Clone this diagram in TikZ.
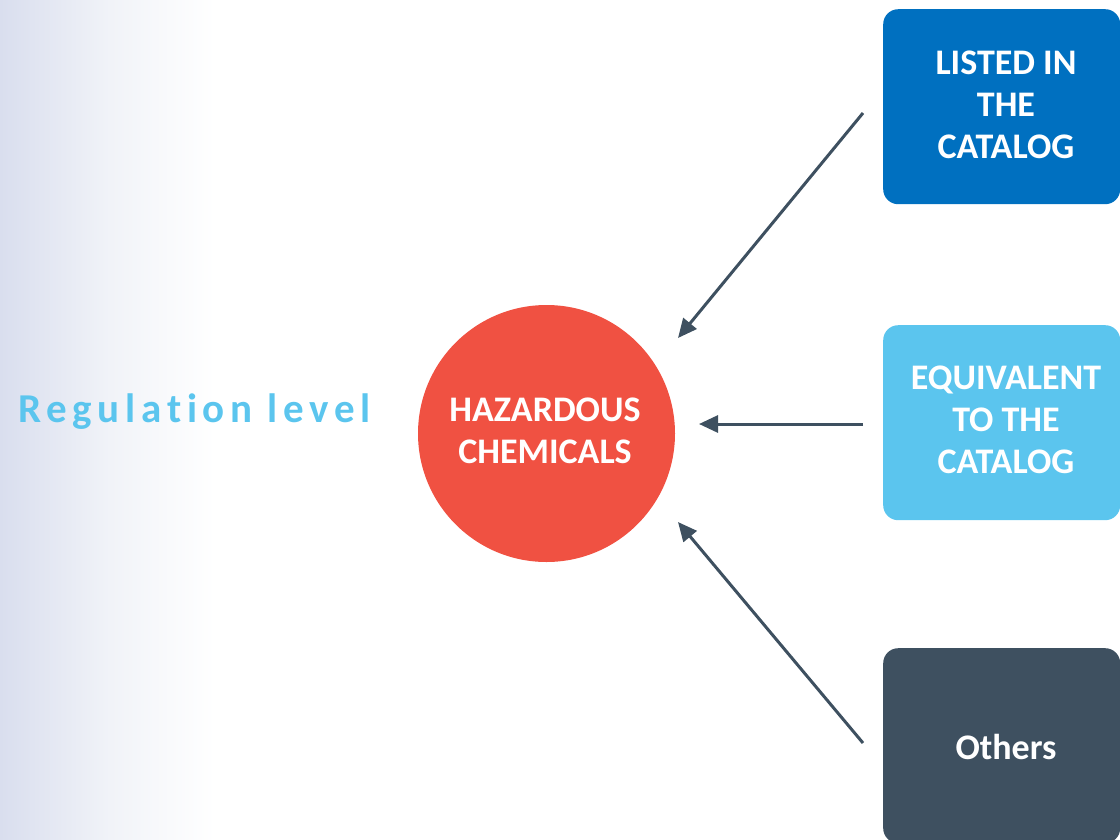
\documentclass[tikz,border=0pt]{standalone}
\usepackage{fontspec}
\setmainfont{Carlito}
\usetikzlibrary{arrows.meta}
\definecolor{boxA}{HTML}{0070C0}
\definecolor{boxB}{HTML}{5BC5EE}
\definecolor{boxC}{HTML}{3E5060}
\definecolor{circ}{HTML}{F05142}
\definecolor{arrc}{HTML}{3E5060}
\definecolor{grad}{HTML}{D9DEEE}
\definecolor{gradm}{HTML}{F1F3F8}
\definecolor{regc}{HTML}{5BC5EE}
\tikzset{
  catbox/.style={rectangle, rounded corners=15pt, minimum width=237pt, minimum height=195pt, inner sep=0pt, anchor=north west},
  boxtext/.style={text=white, font=\bfseries\fontsize{36}{42}\selectfont, align=center, inner sep=0pt},
  arr/.style={draw=arrc, line width=3pt, -{Triangle[length=19pt,width=17pt]}},
}
\begin{document}
\begin{tikzpicture}[x=1pt,y=-1pt]
\useasboundingbox (0,0) rectangle (1120,839);
\shade[left color=grad, right color=gradm] (0,0) rectangle (110,839);
\shade[left color=gradm, right color=white] (110,0) rectangle (215,839);
% boxes
\node[catbox, fill=boxA] (b1) at (883,9) {};
\node[catbox, fill=boxB] (b2) at (883,325) {};
\node[catbox, fill=boxC] (b3) at (883,648) {};
\node[boxtext] (t1) at (1006,105) {LISTED IN\\THE\\CATALOG};
\node[boxtext] (t2) at (1006,420) {EQUIVALENT\\TO THE\\CATALOG};
\node[boxtext] (t3) at (1006,747) {Others};
% circle
\node[circle, fill=circ, minimum size=257pt, inner sep=0pt] (c) at (546.5,433.5) {};
\node[boxtext] (ct) at (545,431) {HAZARDOUS\\CHEMICALS};
% label
\node[text=regc, font=\bfseries\fontsize{41}{44}\selectfont\addfontfeature{LetterSpace=14,Ligatures=NoCommon}, inner sep=0pt, anchor=base west] (reg) at (18,422) {Regulation level};
% arrows
\coordinate (s1) at (863,113);
\coordinate (s2) at (863,424);
\coordinate (s3) at (863,743);
\coordinate (e1) at (678,338);
\coordinate (e2) at (699,424);
\coordinate (e3) at (678,522);
\draw[arr] (s1) -- (e1);
\draw[arr] (s2) -- (e2);
\draw[arr] (s3) -- (e3);
\end{tikzpicture}
\end{document}
